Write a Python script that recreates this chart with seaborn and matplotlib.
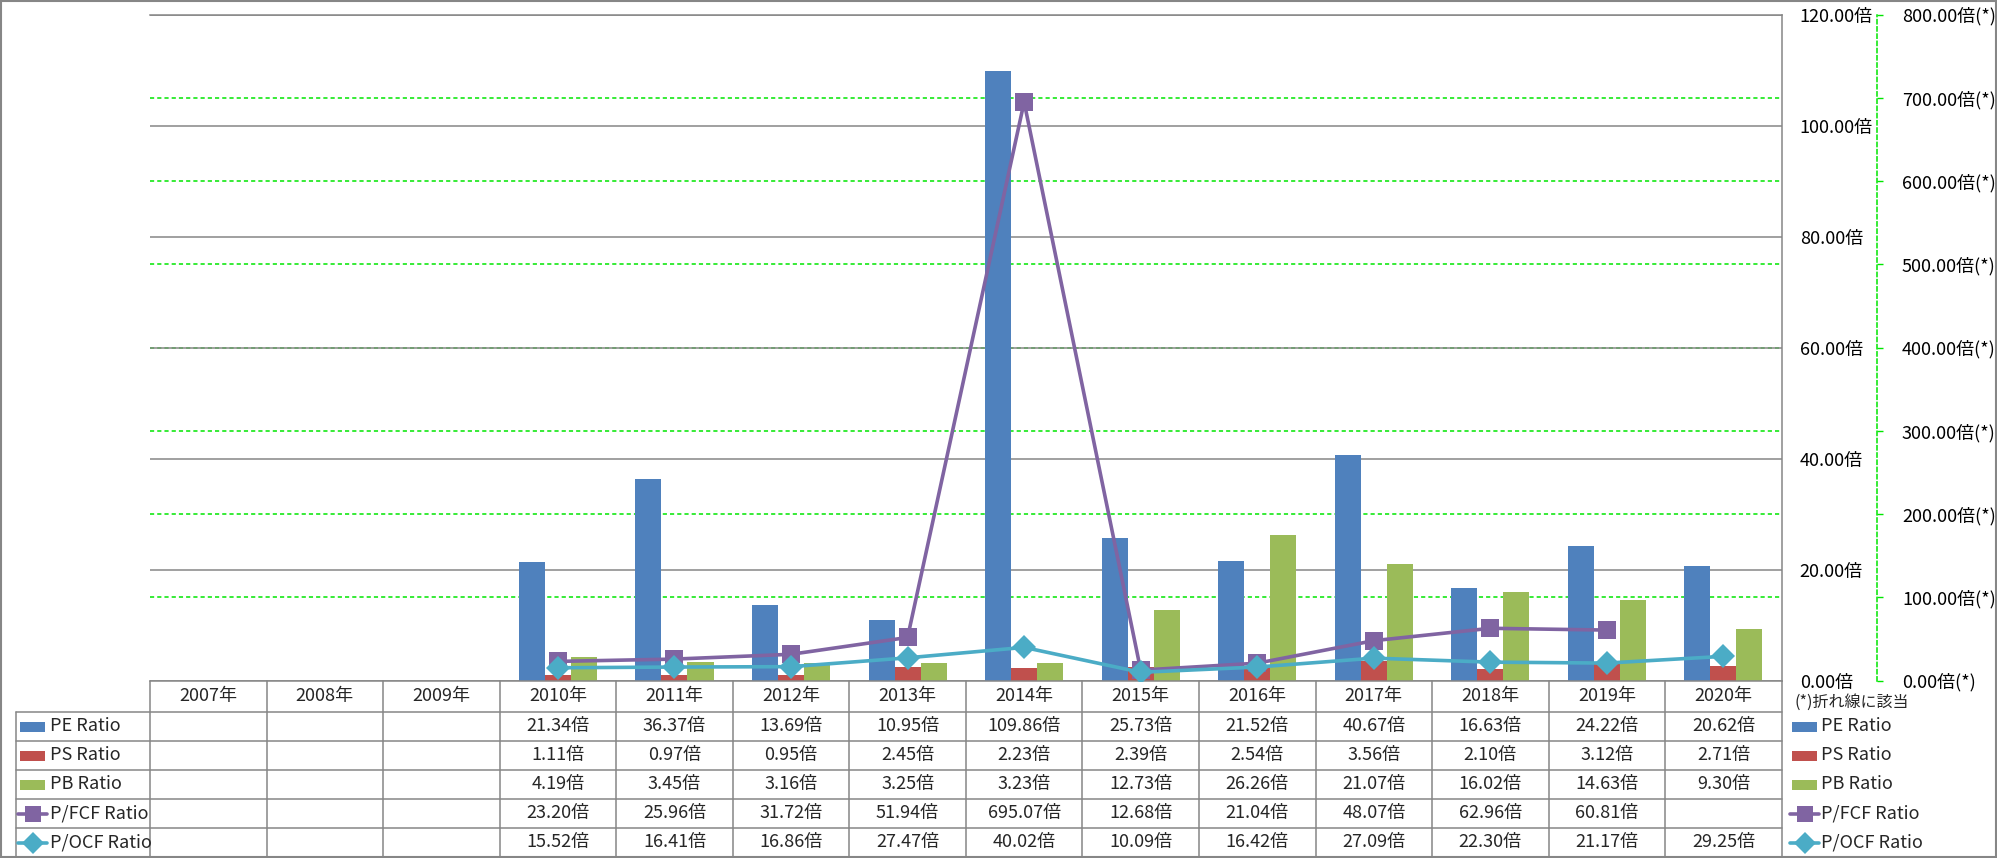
import numpy as np
import pandas as pd
import matplotlib
matplotlib.use("Agg")
import matplotlib.pyplot as plt
import seaborn as sns
from matplotlib.transforms import blended_transform_factory
from matplotlib.lines import Line2D
from matplotlib.patches import Rectangle

# ---------------- data ----------------
years = ['2007年', '2008年', '2009年', '2010年', '2011年', '2012年', '2013年',
         '2014年', '2015年', '2016年', '2017年', '2018年', '2019年', '2020年']
data_years = years[3:]
pe = [21.34, 36.37, 13.69, 10.95, 109.86, 25.73, 21.52, 40.67, 16.63, 24.22, 20.62]
ps = [1.11, 0.97, 0.95, 2.45, 2.23, 2.39, 2.54, 3.56, 2.10, 3.12, 2.71]
pb = [4.19, 3.45, 3.16, 3.25, 3.23, 12.73, 26.26, 21.07, 16.02, 14.63, 9.30]
pfcf = [23.20, 25.96, 31.72, 51.94, 695.07, 12.68, 21.04, 48.07, 62.96, 60.81, np.nan]
pocf = [15.52, 16.41, 16.86, 27.47, 40.02, 10.09, 16.42, 27.09, 22.30, 21.17, 29.25]
series_names = ['PE Ratio', 'PS Ratio', 'PB Ratio', 'P/FCF Ratio', 'P/OCF Ratio']
colors = ['#4F81BD', '#C0504D', '#9BBB59', '#8064A2', '#4BACC6']
left_ticks = [0, 20, 40, 60, 80, 100, 120]
right_ticks = [0, 100, 200, 300, 400, 500, 600, 700, 800]
note_text = '(*)折れ線に該当'

# ---------------- style ----------------
sns.set_theme(style='white')
plt.rcParams['font.family'] = ['Noto Sans CJK JP', 'DejaVu Sans']
plt.rcParams['font.size'] = 13
plt.rcParams['lines.scale_dashes'] = False

GRAY = '#868686'
GREEN = '#00E600'
W, H = 1997, 858
fig = plt.figure(figsize=(W / 100, H / 100), dpi=100, facecolor='white')


def fx(px):
    return px / W


def fy(py):
    return 1 - py / H


PL, PR, PT, PB_ = 150, 1781.7, 14.7, 680.7
ax = fig.add_axes([fx(PL), fy(PB_), fx(PR) - fx(PL), fy(PT) - fy(PB_)])
axg = ax.twinx()
ax2 = ax.twinx()
axg.set_zorder(0)
ax.set_zorder(1)
ax2.set_zorder(2)
ax.patch.set_visible(False)
axg.patch.set_visible(False)
ax2.patch.set_visible(False)

# ---------------- bars ----------------
rows = []
for name, vals in zip(series_names[:3], [pe, ps, pb]):
    for yr, v in zip(data_years, vals):
        rows.append({'year': yr, 'value': v, 'series': name})
df = pd.DataFrame(rows)
sns.barplot(data=df, x='year', y='value', hue='series', order=years,
            hue_order=series_names[:3], palette=colors[:3], saturation=1,
            width=0.67, gap=0, ax=ax, legend=False, linewidth=0, errorbar=None)

# ---------------- lines ----------------
xpos = [years.index(y) for y in data_years]
sns.lineplot(x=xpos, y=pfcf, ax=ax2, color=colors[3], marker='s', markersize=13,
             markeredgewidth=0, linewidth=2.6, legend=False)
sns.lineplot(x=xpos, y=pocf, ax=ax2, color=colors[4], marker='D', markersize=12.5,
             markeredgewidth=0, linewidth=2.6, legend=False)

# ---------------- axes ----------------
ax.set_xlim(-0.5, len(years) - 0.5)
ax.set_ylim(0, 120)
ax.set_xticks([])
ax.set_xlabel('')
ax.set_ylabel('')
ax.yaxis.tick_right()
ax.set_yticks(left_ticks)
ax.set_yticklabels([f'{v:.2f}倍' for v in left_ticks])
ax.tick_params(axis='y', length=0, pad=13, labelsize=13, colors='#000000')
ax.grid(axis='y', color=GRAY, linewidth=1.1)
ax.set_axisbelow(True)
for s in ['left']:
    ax.spines[s].set_visible(False)
for s in ['top', 'bottom', 'right']:
    ax.spines[s].set_color(GRAY)
    ax.spines[s].set_linewidth(1.1)

axg.set_ylim(0, 800)
axg.axis('off')
for t in right_ticks[1:-1]:
    axg.axhline(t, color=GREEN, linewidth=1.1, linestyle=(0, (3, 2.2)))

ax2.set_ylim(0, 800)
ax2.set_xlim(-0.5, len(years) - 0.5)
ax2.set_ylabel('')
ax2.set_yticks(right_ticks)
ax2.set_yticklabels([f'{v:.2f}倍(*)' for v in right_ticks])
ax2.tick_params(axis='y', direction='out', length=4, width=1, color=GREEN,
                pad=14, labelsize=13, colors='#000000')
ax2.tick_params(axis='y', color=GREEN)
for s in ['left', 'top', 'bottom']:
    ax2.spines[s].set_visible(False)
ax2.spines['right'].set_position(('axes', (1877 - PL) / (PR - PL)))
ax2.spines['right'].set_color(GREEN)
ax2.spines['right'].set_linestyle((0, (3, 2.2)))
ax2.spines['right'].set_linewidth(1.1)

# ---------------- data table ----------------
trans = blended_transform_factory(ax.transData, fig.transFigure)
edges = [680.7, 712.3, 741.3, 770.3, 799.3, 828.3, 857.3]
for e in edges[1:-1]:
    fig.add_artist(Line2D([fx(16), fx(PR)], [fy(e), fy(e)], color=GRAY, lw=1.1))
for i in range(len(years) + 1):
    x = i - 0.5
    fig.add_artist(Line2D([x, x], [fy(edges[0]), fy(edges[-1])], color=GRAY, lw=1.1,
                          transform=trans))
fig.add_artist(Line2D([fx(16), fx(16)], [fy(edges[1]), fy(edges[-1])], color=GRAY, lw=1.1))

hdr_c = (edges[0] + edges[1]) / 2 - 1
for i, yr in enumerate(years):
    fig.text(i, fy(hdr_c), yr, transform=trans, ha='center', va='center', fontsize=13)

all_vals = [pe, ps, pb, pfcf, pocf]
for r, vals in enumerate(all_vals):
    yc = (edges[r + 1] + edges[r + 2]) / 2 - 1
    for yr, v in zip(data_years, vals):
        if not np.isnan(v):
            fig.text(years.index(yr), fy(yc), f'{v:.2f}倍', transform=trans,
                     ha='center', va='center', fontsize=13)


def legend_key(x0, yc, r):
    if r < 3:
        fig.add_artist(Rectangle((fx(x0), fy(yc + 5)), fx(25), 10 / H,
                                 facecolor=colors[r], edgecolor='none',
                                 transform=fig.transFigure))
    else:
        fig.add_artist(Line2D([fx(x0 - 2), fx(x0 + 27)], [fy(yc), fy(yc)],
                              color=colors[r], lw=2.6))
        fig.add_artist(Line2D([fx(x0 + 12.5)], [fy(yc)], color=colors[r],
                              marker='s' if r == 3 else 'D',
                              markersize=11.5 if r == 3 else 11, markeredgewidth=0,
                              linestyle='none'))


for r, name in enumerate(series_names):
    yc = (edges[r + 1] + edges[r + 2]) / 2
    legend_key(20, yc, r)
    fig.text(fx(50), fy(yc - 0.5), name, ha='left', va='center', fontsize=13)
    legend_key(1792, yc, r)
    fig.text(fx(1821), fy(yc - 0.5), name, ha='left', va='center', fontsize=13)

fig.text(fx(1794), fy(702), note_text, ha='left', va='center', fontsize=11.5)

# outer frame
fig.add_artist(Rectangle((fx(1), fy(857)), fx(W - 2.5), (856) / H, fill=False,
                         edgecolor=GRAY, lw=1.5, transform=fig.transFigure))

fig.savefig('out.png', dpi=100, facecolor='white')
